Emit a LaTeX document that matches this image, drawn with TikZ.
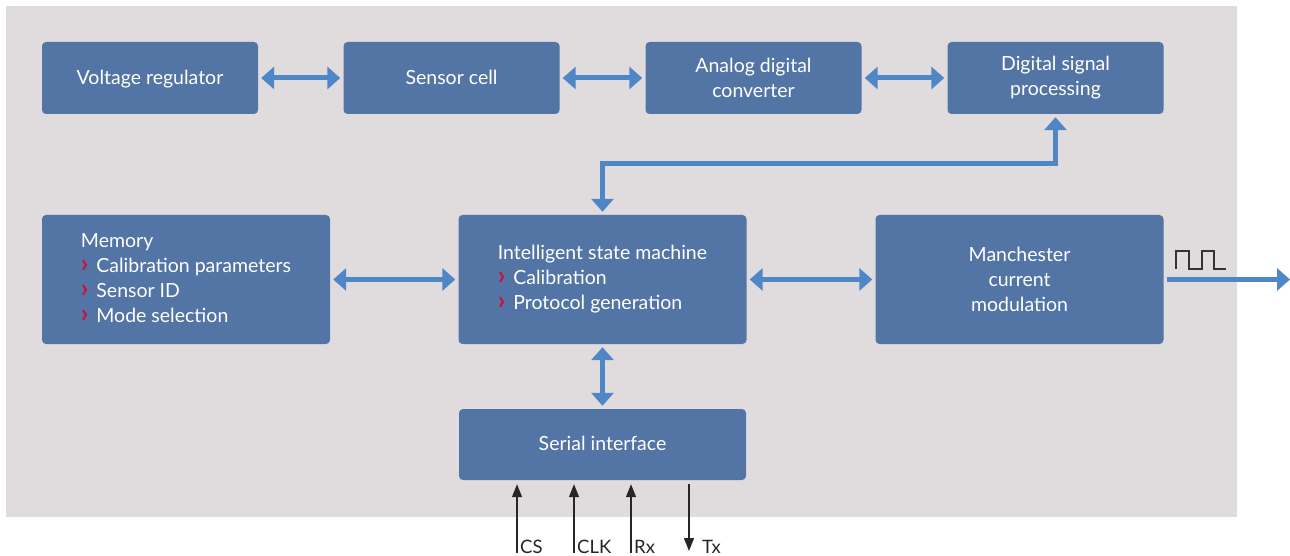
\documentclass[tikz,border=0pt]{standalone}
\usepackage{fontspec}
\usepackage{graphicx}
\setmainfont{Lato}
\usetikzlibrary{arrows.meta}
\definecolor{bgc}{HTML}{E0DCDD}
\definecolor{boxc}{HTML}{5275A5}
\definecolor{arrc}{HTML}{4F86C6}
\definecolor{chevc}{HTML}{D0103A}
\newcommand{\chv}{{\color{chevc}\bfseries\scalebox{1.35}{›}}\hspace{0.4em}}
\begin{document}
\begin{tikzpicture}[x=1pt,y=-1pt,
  box/.style={fill=boxc, rounded corners=4pt, text=white, align=center,
    font=\fontsize{19.5}{25}\selectfont, inner sep=0pt},
  topbox/.style={box, minimum width=216pt, minimum height=72pt},
  midbox/.style={box, minimum width=288pt, minimum height=129pt},
  barrow/.style={draw=arrc, line width=5pt,
    {Triangle[width=22pt,length=13pt]}-{Triangle[width=22pt,length=13pt]},
    shorten <=3pt, shorten >=3pt},
  oarrow/.style={draw=arrc, line width=5pt, -{Triangle[width=22pt,length=13pt]},
    shorten <=3pt},
  sig/.style={draw=black!85, line width=1.3pt, -{Triangle[width=10pt,length=13pt]}},
  lbl/.style={font=\fontsize{18.5}{22}\selectfont, text=black!85, inner sep=0pt}]
\useasboundingbox (0,0) rectangle (1290,556);
\fill[bgc] (6,6) rectangle (1237,517);
% top row
\node[topbox, text depth=2pt] (vr) at (150,78) {Voltage regulator};
\node[topbox, text depth=2pt] (sc) at (451.5,78) {Sensor cell};
\node[topbox] (adc) at (753.5,78) {Analog digital\\converter};
\node[topbox] (dsp) at (1055.5,78) {Digital signal\\processing};
% middle row
\node[midbox] (mem) at (186,279.5) {\begin{tabular}{@{}l@{}}Memory\\ \chv Calibration parameters\\ \chv Sensor ID\\ \chv Mode selection\end{tabular}};
\node[midbox] (ism) at (602.5,279.5) {\begin{tabular}{@{}l@{}}Intelligent state machine\\ \chv Calibration\\ \chv Protocol generation\end{tabular}};
\node[midbox] (man) at (1019.5,279.5) {Manchester\\current\\modulation};
% serial
\node[box, minimum width=287pt, minimum height=71pt, text depth=2pt] (ser) at (602.5,444.5) {Serial interface};
% arrows
\draw[barrow] (vr) -- (sc);
\draw[barrow] (sc) -- (adc);
\draw[barrow] (adc) -- (dsp);
\coordinate (k) at (0,164);
\draw[barrow] (ism.north) -- (ism.north |- k) -| (dsp.south);
\draw[barrow] (mem) -- (ism);
\draw[barrow] (ism) -- (man);
\draw[barrow] (ism) -- (ser);
\coordinate (out) at (1290,279.5);
\draw[oarrow] (man) -- (out);
% square wave
\draw[black!80, line width=1.2pt] (1176,269) -- (1176,251) -- (1189,251) -- (1189,269) -- (1202,269) -- (1202,251) -- (1214,251) -- (1214,269) -- (1226,269);
% serial signals
\coordinate (cs) at (517,553);
\coordinate (clk) at (574,553);
\coordinate (rx) at (631,553);
\coordinate (tx) at (689,551);
\draw[sig, shorten >=4pt] (cs) -- (cs |- ser.south);
\draw[sig, shorten >=4pt] (clk) -- (clk |- ser.south);
\draw[sig, shorten >=4pt] (rx) -- (rx |- ser.south);
\draw[sig, shorten <=4pt] (tx |- ser.south) -- (tx);
\node[lbl, anchor=base west] (lcs) at (520,553) {CS};
\node[lbl, anchor=base west] (lclk) at (577,553) {CLK};
\node[lbl, anchor=base west] (lrx) at (634,553) {Rx};
\node[lbl, anchor=base west] (ltx) at (702,553) {Tx};
\end{tikzpicture}
\end{document}
